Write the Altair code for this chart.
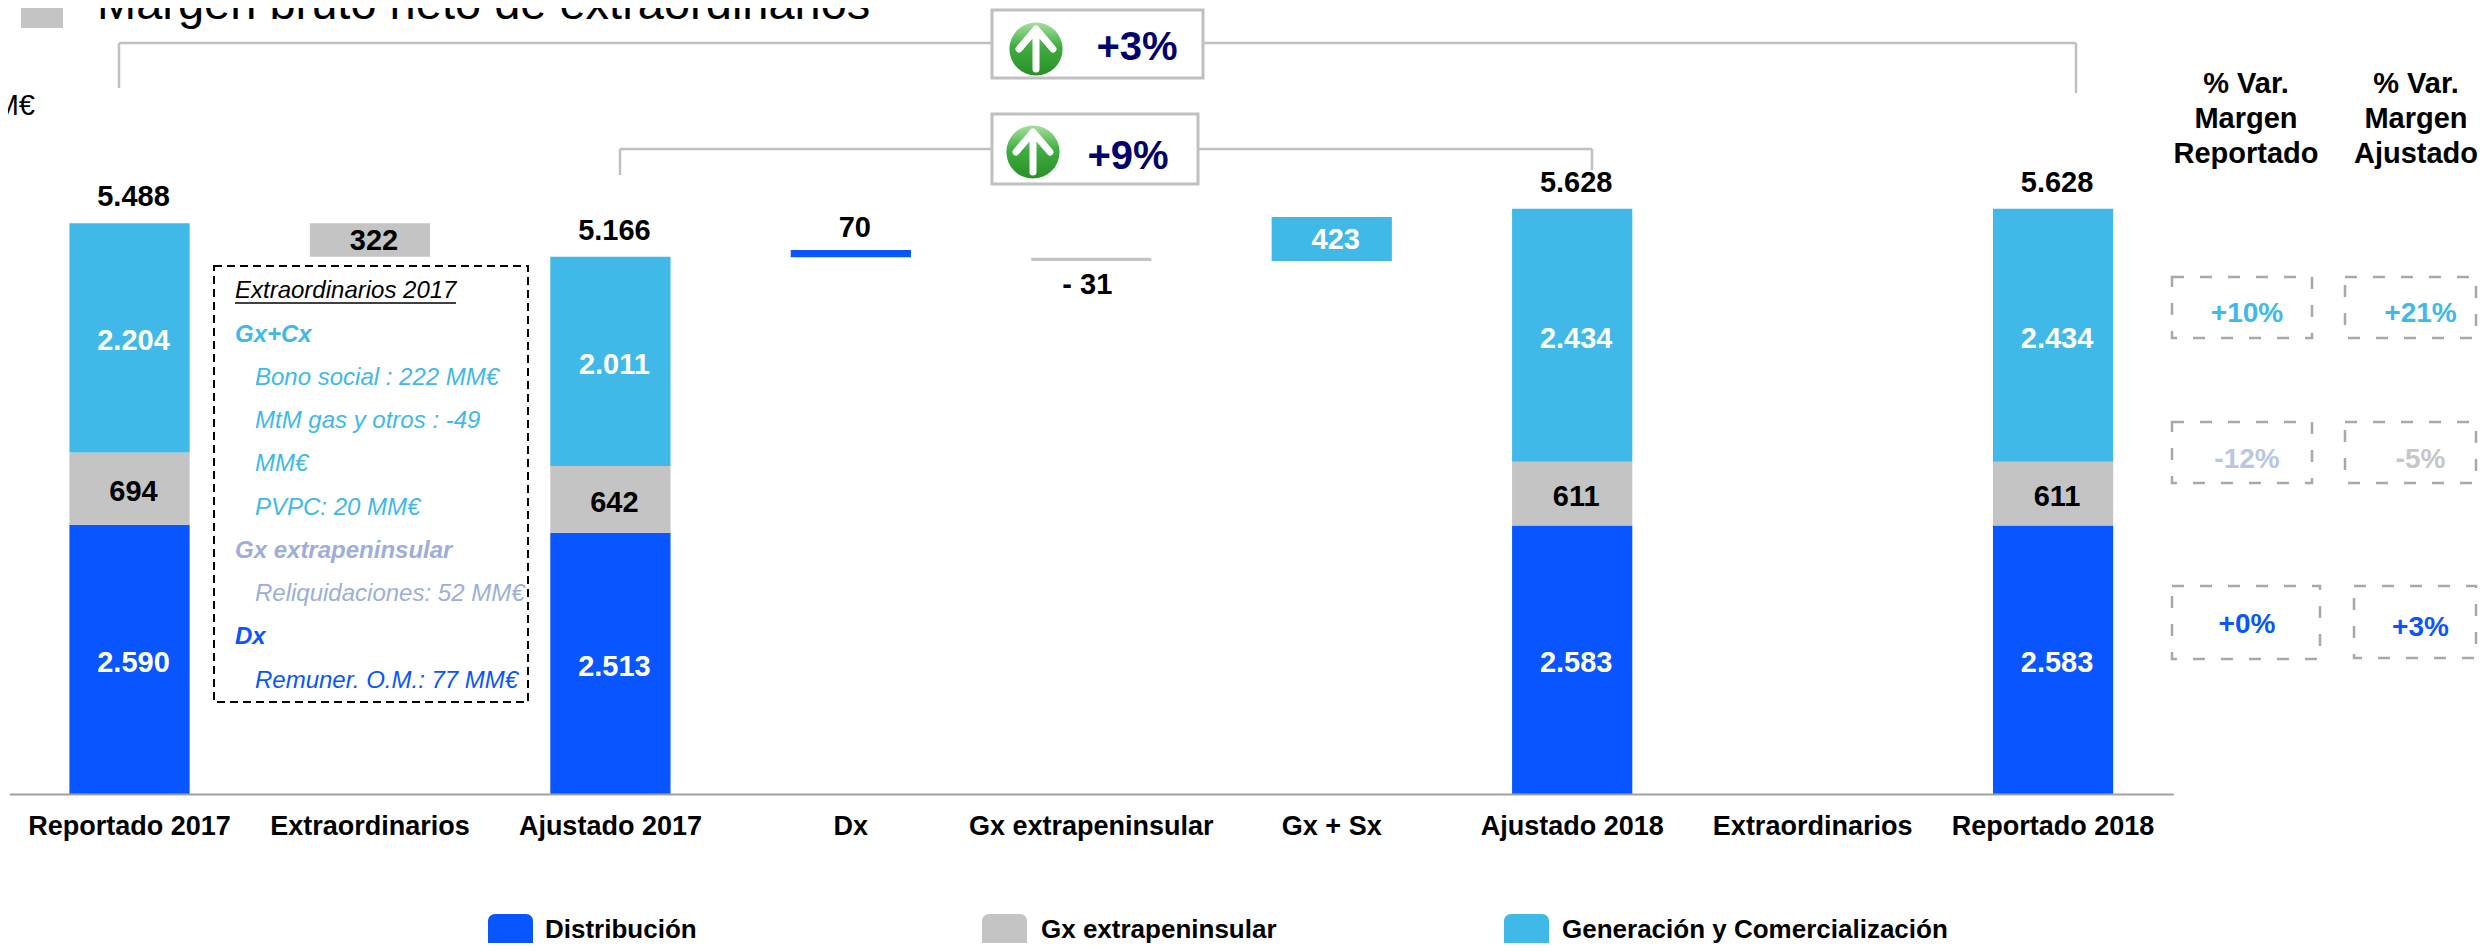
import altair as alt
import pandas as pd

FONT = "Liberation Sans"
BLUE, GREY, SKY = "#0955FF", "#C4C4C4", "#40B9E8"
NAVY = "#00006E"

categories = ["Reportado 2017", "Extraordinarios", "Ajustado 2017", "Dx", "Gx extrapeninsular",
              "Gx + Sx", "Ajustado 2018", "Extraordinarios ", "Reportado 2018"]
stack_cats = ["Reportado 2017", "Ajustado 2017", "Ajustado 2018", "Reportado 2018"]
distribucion = [2590, 2513, 2583, 2583]
gx_extra = [694, 642, 611, 611]
gen_com = [2204, 2011, 2434, 2434]
totals = [5488, 5166, 5628, 5628]

step_cats = ["Extraordinarios", "Dx", "Gx extrapeninsular", "Gx + Sx"]
step_start = [5166, 5161, 5125, 5125]
step_end = [5488, 5231, 5156, 5548]
step_series = ["Gx extrapeninsular", "Distribución", "Gx extrapeninsular", "Generación y Comercialización"]

series_names = ["Distribución", "Gx extrapeninsular", "Generación y Comercialización"]
series_colors = [BLUE, GREY, SKY]


def fmt(v):
    return f"{v:,}".replace(",", ".")


seg_rows, inside_rows, above_rows = [], [], []
for i, c in enumerate(stack_cats):
    a = distribucion[i]
    b = a + gx_extra[i]
    d = b + gen_com[i]
    seg_rows += [
        dict(cat=c, y0=0, y1=a, serie=series_names[0]),
        dict(cat=c, y0=a, y1=b, serie=series_names[1]),
        dict(cat=c, y0=b, y1=d, serie=series_names[2]),
    ]
    inside_rows += [
        dict(cat=c, y=a / 2, t=fmt(distribucion[i]), col="white"),
        dict(cat=c, y=(a + b) / 2, t=fmt(gx_extra[i]), col="black"),
        dict(cat=c, y=(b + d) / 2, t=fmt(gen_com[i]), col="white"),
    ]
    above_rows.append(dict(cat=c, y=totals[i], t=fmt(totals[i])))
for c, s, e, n in zip(step_cats, step_start, step_end, step_series):
    seg_rows.append(dict(cat=c, y0=s, y1=e, serie=n))
float_rows = [
    dict(cat="Extraordinarios", y=(5166 + 5488) / 2, t="322", col="black"),
    dict(cat="Gx + Sx", y=(5125 + 5548) / 2, t="423", col="white"),
]
above_rows.append(dict(cat="Dx", y=(5161 + 5231) / 2, t="70"))

OX, OY = 9.3, 8
x_scale = alt.Scale(domain=categories, paddingInner=0.5, paddingOuter=0.25)
y_scale = alt.Scale(domain=[0, 7558], nice=False, zero=False)
x_axis = alt.Axis(title=None, ticks=False, grid=False, labelAngle=0, labelFont=FONT, labelFontSize=27,
                  labelFontWeight="bold", labelColor="black", labelPadding=19, labelLimit=0,
                  labelOverlap=False, labelFlush=False, domainColor="#A0A0A0", domainWidth=2, zindex=1)
X = alt.X("cat:N", scale=x_scale, sort=categories, axis=x_axis)
Y = alt.Y("y0:Q", scale=y_scale, axis=None)
YT = alt.Y("y:Q", scale=y_scale, axis=None)

bars = alt.Chart(pd.DataFrame(seg_rows)).mark_bar().encode(
    x=X, y=Y, y2="y1:Q",
    color=alt.Color("serie:N", scale=alt.Scale(domain=series_names, range=series_colors), legend=None))

vt = dict(font=FONT, fontSize=29, fontWeight="bold", baseline="middle")
lab_in = alt.Chart(pd.DataFrame(inside_rows)).mark_text(dx=4, dy=3.5, **vt).encode(
    x=X, y=YT, text="t:N", color=alt.Color("col:N", scale=None))
lab_fl = alt.Chart(pd.DataFrame(float_rows)).mark_text(dx=4, dy=1, **vt).encode(
    x=X, y=YT, text="t:N", color=alt.Color("col:N", scale=None))
lab_up = alt.Chart(pd.DataFrame(above_rows)).mark_text(dx=4, dy=-26, color="black", **vt).encode(
    x=X, y=YT, text="t:N")
lab_dn = alt.Chart(pd.DataFrame([dict(cat="Gx extrapeninsular", y=5125, t="- 31")])).mark_text(
    dx=-4, dy=24, color="black", **vt).encode(x=X, y=YT, text="t:N")

one = pd.DataFrame({"a": [0]})


def rule(x0, y0, x1, y1, color="#C0C0C0", w=2.5):
    return alt.Chart(one).mark_rule(color=color, strokeWidth=w).encode(
        x=alt.value(x0 - OX), x2=alt.value(x1 - OX), y=alt.value(y0 - OY), y2=alt.value(y1 - OY))


def rect(x0, y0, x1, y1, **kw):
    return alt.Chart(one).mark_rect(**kw).encode(
        x=alt.value(x0 - OX), x2=alt.value(x1 - OX), y=alt.value(y0 - OY), y2=alt.value(y1 - OY))


def text(s, x, y, size=28, color="black", weight="normal", style="normal", align="center"):
    return alt.Chart(one).mark_text(text=s, font=FONT, fontSize=size, color=color, fontWeight=weight,
                                    fontStyle=style, align=align, baseline="middle").encode(
        x=alt.value(x - OX), y=alt.value(y - OY))


ann = []
# brackets
ann += [rule(119, 43, 119, 88), rule(119, 43, 2076, 43), rule(2076, 43, 2076, 93),
        rule(620, 149, 620, 175), rule(620, 149, 1592, 149), rule(1592, 149, 1592, 170)]
# badges
ARROW = "M0,1 L0,-0.9 M-0.85,0 L0,-1 L0.85,0"
green = alt.Gradient(gradient="linear", x1=0, y1=0, x2=0, y2=1,
                     stops=[alt.GradientStop(offset=0, color="#A8DFA0"),
                            alt.GradientStop(offset=0.45, color="#3FAE3F"),
                            alt.GradientStop(offset=1, color="#2A8F2A")])
for (bx0, by0, bx1, by1, cx, cy, tx, ty, s) in [
    (992, 10, 1203, 78, 1036, 49, 1137, 48, "+3%"),
    (992, 114, 1198, 184, 1033, 152, 1128, 157, "+9%"),
]:
    ann.append(rect(bx0, by0, bx1, by1, fill="white", stroke="#C0C0C0", strokeWidth=3))
    ann.append(alt.Chart(one).mark_point(shape="circle", filled=True, size=2830, fill=green, opacity=1,
                                         strokeWidth=0).encode(x=alt.value(cx - OX), y=alt.value(cy - OY)))
    ann.append(alt.Chart(one).mark_point(shape=ARROW, filled=False, size=1600, stroke="white", strokeWidth=7,
                                         opacity=1, strokeCap="round", strokeJoin="round").encode(
        x=alt.value(cx - OX), y=alt.value(cy - OY)))
    ann.append(text(s, tx, ty, size=40, color=NAVY, weight="bold"))

# header (the reference cuts this line at the top edge; the page margin cuts 8px earlier here)
ann.append(rect(21, 0, 63, 28, fill=GREY))
ann.append(text("Margen bruto neto de extraordinarios", 97, 5, size=47, align="left"))
ann.append(text("MM€", 35, 106, size=29, align="right"))

# dashed box with the notes
ann.append(rect(214, 266, 528, 702, fill="white", stroke="black", strokeWidth=2, strokeDash=[8, 5]))
PERI = "#9DAEDB"
notes = [
    ("Extraordinarios 2017", 235, 291, "black", "normal"),
    ("Gx+Cx", 235, 335, SKY, "bold"),
    ("Bono social : 222 MM€", 255, 378, SKY, "normal"),
    ("MtM gas y otros : -49", 255, 421, SKY, "normal"),
    ("MM€", 255, 464, SKY, "normal"),
    ("PVPC: 20 MM€", 255, 508, SKY, "normal"),
    ("Gx extrapeninsular", 235, 551, PERI, "bold"),
    ("Reliquidaciones: 52 MM€", 255, 594, PERI, "normal"),
    ("Dx", 235, 637, BLUE, "bold"),
    ("Remuner. O.M.: 77 MM€", 255, 681, BLUE, "normal"),
]
for s, x, y, c, w in notes:
    ann.append(text(s, x, y, size=24, color=c, weight=w, style="italic", align="left"))
ann.append(rule(235, 303, 456, 303, color="black", w=1.5))

# right-hand variation columns
for i, line in enumerate(["% Var.", "Margen", "Reportado"]):
    ann.append(text(line, 2246, 84 + 35 * i, size=29, weight="bold"))
for i, line in enumerate(["% Var.", "Margen", "Ajustado"]):
    ann.append(text(line, 2416, 84 + 35 * i, size=29, weight="bold"))

DASH = dict(fillOpacity=0, stroke="#A8A8A8", strokeWidth=2.5, strokeDash=[12, 16])
var_rows = [
    ("+10%", "+21%", SKY, SKY, (2172, 277, 2312, 338), (2345, 277, 2476, 338), 314, 314),
    ("-12%", "-5%", "#B9C6E6", "#C6C6C6", (2172, 422, 2312, 483), (2345, 422, 2476, 483), 460, 460),
    ("+0%", "+3%", BLUE, BLUE, (2172, 586, 2320, 659), (2354, 586, 2476, 658), 625, 628),
]
for t1, t2, c1, c2, b1, b2, y1, y2 in var_rows:
    ann.append(rect(*b1, **DASH))
    ann.append(rect(*b2, **DASH))
    ann.append(text(t1, 2247, y1, size=28, color=c1, weight="bold"))
    ann.append(text(t2, 2420.5, y2, size=28, color=c2, weight="bold"))

# key along the bottom (kept inside the page: the 8px margin cuts the chart at y=943)
for name, col, sx, tx in zip(series_names, series_colors, [488, 982, 1504], [545, 1041, 1562]):
    ann.append(rect(sx, 914, sx + 45, 960, fill=col, cornerRadius=7))
    ann.append(text(name, tx, 930, size=26, weight="bold", align="left"))

chart = alt.layer(bars, lab_in, lab_fl, lab_up, lab_dn, *ann).properties(
    width=2164, height=786,
    autosize=alt.AutoSizeParams(type="none"),
    padding={"left": 1.3, "top": 0, "right": 304.7, "bottom": 149},
    background="white",
).configure_view(strokeWidth=0)

chart.save("out.html", embed_options={"renderer": "svg", "actions": False})
